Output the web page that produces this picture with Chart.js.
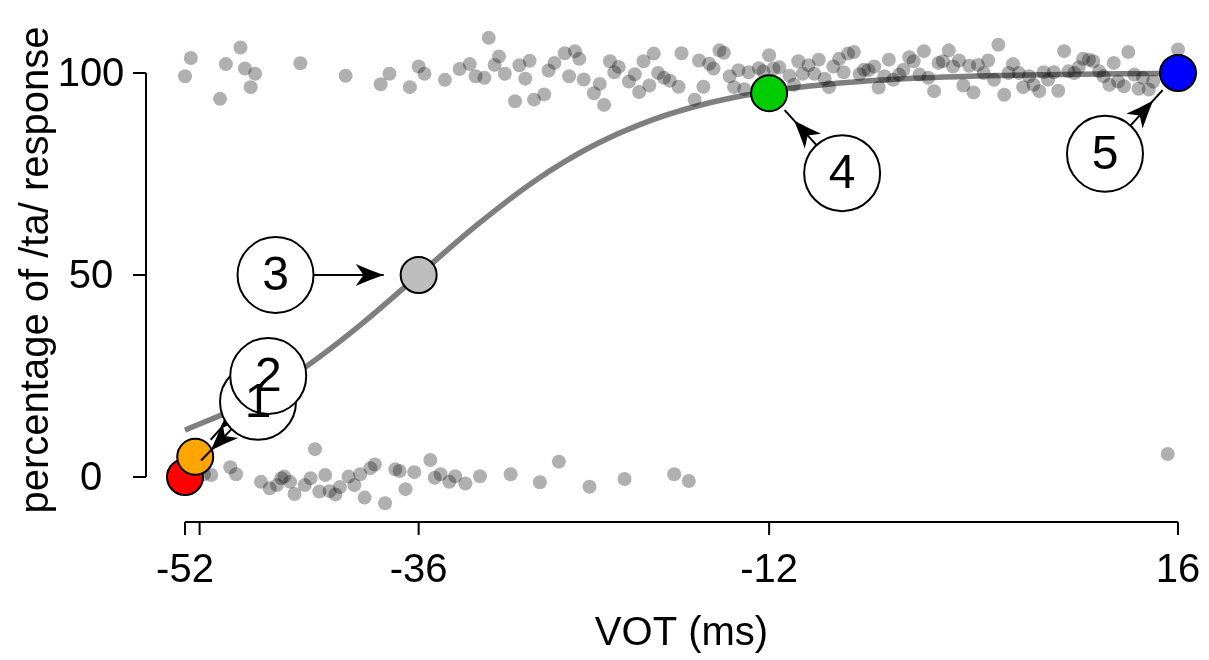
<!DOCTYPE html>
<html>
<head>
<meta charset="utf-8">
<script src="https://cdn.jsdelivr.net/npm/chart.js@4.4.1/dist/chart.umd.min.js"></script>
<style>
html, body { margin: 0; padding: 0; background: #fff; }
#wrap { width: 1209px; height: 660px; }
</style>
</head>
<body>
<div id="wrap"><canvas id="chart"></canvas></div>
<script>
// individual responses (VOT in ms, % /ta/), jittered as in the figure
const dotVot = [
    -51.6, -52.0, -48.2, -49.2, -47.9, -47.2, -47.5, -49.6, -44.1, -41.0,
    -38.6, -38.0, -36.6, -36.0, -35.6, -34.2, -31.2, -33.2, -32.5, -32.1,
    -31.5, -30.8, -30.5, -30.1, -29.4, -29.1, -28.4, -28.7, -28.1, -27.4,
    -27.1, -26.7, -26.0, -25.3, -25.0, -25.7, -24.7, -24.0, -23.6, -23.3,
    -22.9, -22.3, -22.6, -21.6, -21.2, -20.9, -20.6, -20.2, -19.9, -19.6,
    -19.2, -18.8, -18.2, -18.0, -17.1, -16.8, -16.5, -16.1, -15.8, -15.4,
    -15.1, -14.7, -14.4, -14.1, -13.7, -13.4, -12.7, -12.4, -12.0, -11.7,
    -11.3, -10.6, -10.3, -10.0, -9.7, -9.3, -8.9, -8.6, -8.2, -7.9,
    -7.6, -7.2, -6.9, -6.6, -6.2, -5.8, -5.5, -5.2, -4.8, -4.5,
    -4.1, -3.8, -3.5, -3.1, -2.8, -2.4, -2.1, -1.7, -1.4, -1.1,
    -0.7, -0.4, -0.1, 0.3, 0.6, 1.0, 1.3, 1.7, 2.0, 2.3,
    2.7, 3.0, 3.4, 3.7, 4.1, 4.4, 4.7, 5.1, 5.4, 5.8,
    6.1, 6.5, 6.8, 7.1, 7.5, 7.8, 8.2, 8.5, 8.9, 9.2,
    9.5, 9.9, 10.2, 10.6, 10.9, 11.3, 11.6, 11.9, 12.3, 12.6,
    13.0, 13.3, 13.6, 14.0, 14.3, 16.0,
    -50.7, -50.2, -48.9, -48.5, -46.8, -46.2, -45.7, -45.4, -45.2, -44.8,
    -44.5, -43.8, -43.4, -43.1, -42.8, -42.4, -42.1, -41.7, -41.4, -40.8,
    -40.4, -40.0, -39.7, -39.3, -39.0, -38.3, -37.6, -37.3, -36.9, -36.3,
    -35.2, -34.9, -34.5, -33.9, -33.5, -32.8, -31.8, -29.7, -27.7, -26.4,
    -24.3, -21.9, -18.5, -17.5, 15.3
];
const dotPct = [
    103.7, 99.2, 106.3, 102.2, 101.1, 99.8, 96.5, 93.6, 102.4, 99.3,
    97.2, 99.8, 96.5, 101.6, 99.8, 98.3, 108.7, 101.0, 102.2, 99.2,
    98.8, 102.0, 104.1, 99.8, 93.0, 101.9, 103.0, 98.6, 93.4, 94.7,
    100.6, 102.5, 104.9, 105.4, 103.5, 99.2, 98.4, 95.0, 97.3, 92.1,
    102.9, 101.5, 100.2, 97.9, 99.7, 95.3, 102.9, 96.9, 104.8, 100.0,
    98.8, 98.1, 96.6, 104.9, 93.4, 103.1, 96.6, 102.3, 101.1, 105.6,
    105.0, 99.2, 96.5, 100.7, 96.0, 100.2, 101.2, 100.4, 104.4, 101.1,
    101.4, 99.3, 97.1, 102.9, 99.8, 101.9, 99.8, 103.3, 98.6, 96.5,
    101.6, 103.5, 100.2, 104.8, 105.2, 99.7, 100.8, 100.7, 101.6, 96.4,
    99.2, 103.3, 98.3, 99.6, 100.8, 103.9, 102.9, 99.6, 105.4, 98.8,
    95.5, 102.5, 102.9, 105.6, 101.6, 103.1, 96.9, 101.8, 95.2, 102.0,
    100.0, 103.1, 98.3, 107.0, 94.6, 100.0, 102.2, 100.0, 96.5, 99.2,
    97.1, 95.5, 100.2, 98.3, 100.2, 95.6, 105.4, 100.4, 100.0, 101.4,
    103.5, 103.3, 102.9, 100.4, 99.2, 97.1, 102.5, 97.9, 96.7, 105.2,
    99.6, 96.1, 98.8, 95.9, 97.9, 105.8,
    0.7, 0.5, 2.4, 0.7, -1.2, -2.8, -2.0, -0.3, 0.1, -1.2,
    -4.2, -2.0, -0.3, 6.9, -3.6, 0.5, -3.5, -4.3, -2.5, 0.1,
    -2.0, 0.7, -5.1, 2.2, 3.1, -6.5, 1.9, 1.5, -3.0, 1.2,
    4.2, -0.2, 0.7, -1.2, 0.2, -1.6, 0.2, 0.7, -1.3, 3.8,
    -2.4, -0.5, 0.7, -1.0, 5.7
];

// fitted identification curve
const curveVot = [-52, -48, -44, -40, -36, -32, -28, -24, -20, -16, -12, -8, -4, 0, 4, 8, 12, 16];
const curvePct = [11.6, 17.9, 26.6, 37.6, 50, 62.4, 73.4, 82.1, 88.4, 92.7, 95.5, 97.2, 98.3, 99.0, 99.4, 99.6, 99.8, 99.9];

// highlighted stimuli
const markVot = [-52, -51.3, -36, -12, 16];
const markPct = [0, 5, 50, 95, 100];
const markColors = ["#ff0000", "#ffa500", "#bebebe", "#00cd00", "#0000ff"];

// numbered callouts pointing at the highlighted stimuli
const calloutText = ["1", "2", "3", "4", "5"];
const calloutVot = [-47.0, -46.3, -45.8, -7.0, 11.0];
const calloutPct = [18.6, 25.0, 50.0, 75.2, 80.0];

const xTicks = [-52, -51, -36, -12, 16];
const xTickLabels = ["-52", "", "-36", "-12", "16"];
const yTicks = [0, 50, 100];
const yTickLabels = ["0", "50", "100"];

const FONT = "'Liberation Sans', Arial, Helvetica, sans-serif";

const dots = dotVot.map((v, i) => ({ x: v, y: dotPct[i] }));
const curve = curveVot.map((v, i) => ({ x: v, y: curvePct[i] }));
const marks = markVot.map((v, i) => ({ x: v, y: markPct[i] }));

// R style axes, detached from the plot region
const rAxes = {
    id: "rAxes",
    afterDraw(chart) {
        const ctx = chart.ctx;
        const xs = chart.scales.x;
        const ys = chart.scales.y;
        const x0 = xs.getPixelForValue(xTicks[0]);
        const x1 = xs.getPixelForValue(xTicks[xTicks.length - 1]);
        const y0 = ys.getPixelForValue(yTicks[0]);
        const y1 = ys.getPixelForValue(yTicks[yTicks.length - 1]);
        ctx.save();
        ctx.strokeStyle = "#000";
        ctx.fillStyle = "#000";
        ctx.lineWidth = 2;
        ctx.font = "40px " + FONT;

        const ax = x0 - 39;
        ctx.beginPath();
        ctx.moveTo(ax, y0);
        ctx.lineTo(ax, y1);
        yTicks.forEach(v => {
            const py = ys.getPixelForValue(v);
            ctx.moveTo(ax, py);
            ctx.lineTo(ax - 13, py);
        });
        ctx.stroke();
        ctx.textAlign = "center";
        ctx.textBaseline = "middle";
        yTicks.forEach((v, i) => {
            ctx.fillText(yTickLabels[i], ax - 55, ys.getPixelForValue(v) + 2);
        });

        const ay = y0 + 45;
        ctx.beginPath();
        ctx.moveTo(x0, ay);
        ctx.lineTo(x1, ay);
        xTicks.forEach(v => {
            const px = xs.getPixelForValue(v);
            ctx.moveTo(px, ay);
            ctx.lineTo(px, ay + 13);
        });
        ctx.stroke();
        xTicks.forEach((v, i) => {
            ctx.fillText(xTickLabels[i], xs.getPixelForValue(v), ay + 49);
        });

        ctx.fillText("VOT (ms)", (x0 + x1) / 2, ay + 112);
        ctx.translate(37, (y0 + y1) / 2 - 5);
        ctx.rotate(-Math.PI / 2);
        ctx.fillText("percentage of /ta/ response", 0, 0);
        ctx.restore();
    }
};

function arrowHead(ctx, tx, ty, ux, uy) {
    const len = 28, half = 11;
    const nx = -uy, ny = ux;
    const bx = tx - ux * len, by = ty - uy * len;
    ctx.beginPath();
    ctx.moveTo(tx, ty);
    ctx.quadraticCurveTo(tx - ux * len * 0.55 + nx * half * 0.5, ty - uy * len * 0.55 + ny * half * 0.5,
        bx + nx * half, by + ny * half);
    ctx.lineTo(tx - ux * len * 0.72, ty - uy * len * 0.72);
    ctx.lineTo(bx - nx * half, by - ny * half);
    ctx.quadraticCurveTo(tx - ux * len * 0.55 - nx * half * 0.5, ty - uy * len * 0.55 - ny * half * 0.5,
        tx, ty);
    ctx.closePath();
    ctx.fill();
}

const callouts = {
    id: "callouts",
    afterDatasetsDraw(chart) {
        const ctx = chart.ctx;
        const xs = chart.scales.x;
        const ys = chart.scales.y;
        const bubbleR = 38;
        const markR = 19;
        ctx.save();
        ctx.strokeStyle = "#000";
        ctx.fillStyle = "#000";
        ctx.lineWidth = 2;
        const centres = calloutVot.map((v, i) => [xs.getPixelForValue(v), ys.getPixelForValue(calloutPct[i])]);
        centres.forEach(([cx, cy], i) => {
            const mx = xs.getPixelForValue(markVot[i]);
            const my = ys.getPixelForValue(markPct[i]);
            const d = Math.hypot(mx - cx, my - cy);
            const ux = (mx - cx) / d, uy = (my - cy) / d;
            const lineGap = i === 2 ? 16 : 4;
            const headGap = i === 2 ? 16 : 18;
            ctx.beginPath();
            ctx.moveTo(cx + ux * bubbleR, cy + uy * bubbleR);
            ctx.lineTo(mx - ux * (markR + lineGap), my - uy * (markR + lineGap));
            ctx.stroke();
            arrowHead(ctx, mx - ux * (markR + headGap), my - uy * (markR + headGap), ux, uy);
        });
        centres.forEach(([cx, cy]) => {
            ctx.beginPath();
            ctx.arc(cx, cy, bubbleR, 0, Math.PI * 2);
            ctx.fillStyle = "#fff";
            ctx.fill();
            ctx.stroke();
        });
        ctx.fillStyle = "#000";
        ctx.font = "48px " + FONT;
        ctx.textAlign = "center";
        ctx.textBaseline = "middle";
        centres.forEach(([cx, cy], i) => {
            ctx.fillText(calloutText[i], cx, cy + 2);
        });
        ctx.restore();
    }
};

new Chart(document.getElementById("chart"), {
    type: "scatter",
    data: {
        datasets: [{
            data: marks,
            order: 1,
            clip: false,
            pointRadius: 18,
            pointBackgroundColor: markColors,
            pointBorderColor: "#000",
            pointBorderWidth: 2
        }, {
            type: "line",
            data: curve,
            order: 2,
            clip: false,
            borderColor: "rgba(0,0,0,0.5)",
            borderWidth: 5.5,
            pointRadius: 0,
            fill: false,
            cubicInterpolationMode: "monotone"
        }, {
            data: dots,
            order: 3,
            clip: false,
            pointRadius: 7,
            pointBackgroundColor: "rgba(0,0,0,0.31)",
            pointBorderWidth: 0
        }]
    },
    options: {
        responsive: true,
        maintainAspectRatio: false,
        animation: false,
        layout: { padding: { left: 185, right: 31, top: 24.5, bottom: 134.5 } },
        plugins: {
            legend: { display: false },
            tooltip: { enabled: false }
        },
        scales: {
            x: { type: "linear", min: -52, max: 16, display: false },
            y: { type: "linear", min: -12, max: 112, display: false }
        }
    },
    plugins: [rAxes, callouts]
});
</script>
</body>
</html>
